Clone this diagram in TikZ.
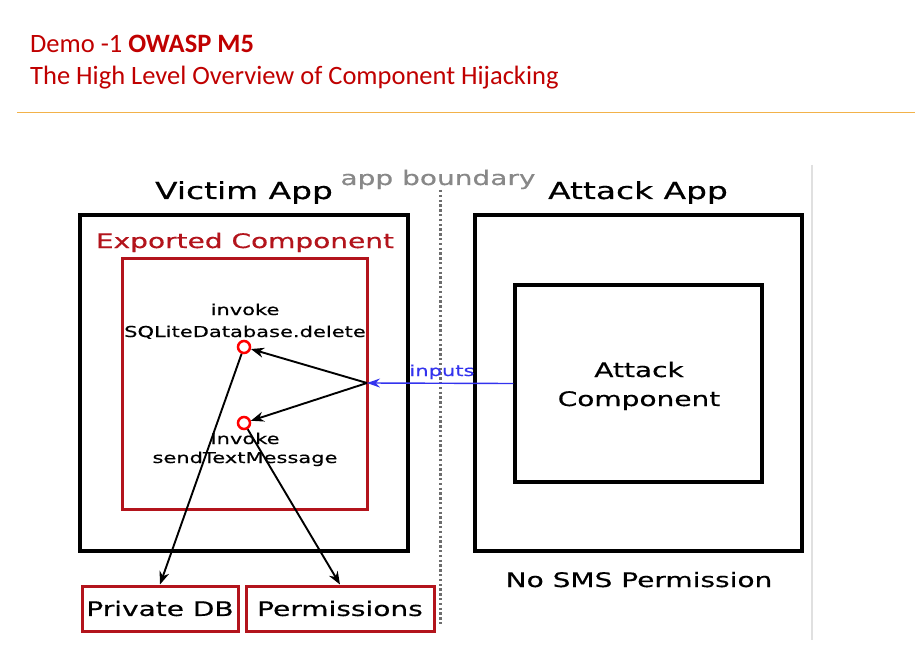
\documentclass[tikz,border=0pt]{standalone}
\usepackage{fontspec}
\setmainfont{DejaVu Sans}[FakeStretch=1.4, FakeBold=0.5]
\newfontfamily\titlefont{Carlito}
\usetikzlibrary{arrows.meta}
\definecolor{titlered}{HTML}{C00000}
\definecolor{boxred}{HTML}{B3141C}
\definecolor{sepline}{HTML}{F2B24A}
\definecolor{bgray}{HTML}{888888}
\definecolor{inblue}{HTML}{3333EE}
\tikzset{
  blackbox/.style={draw=black, line width=3.4pt},
  redbox/.style={draw=boxred, line width=3pt},
  conn/.style={draw=black, line width=1.9pt, -{Stealth[length=13pt,width=10pt]}},
  port/.style={circle, draw=red, line width=2.5pt, minimum size=12pt, inner sep=0pt, fill=white},
  lbl/.style={inner sep=0pt, anchor=base},
}
\begin{document}
\begin{tikzpicture}[x=1pt,y=-1pt]
\useasboundingbox (0,0) rectangle (915,663);
\fill[white] (0,0) rectangle (915,663);
% title
\node[lbl, anchor=base west, text=titlered, font=\titlefont\fontsize{26.5}{30}\selectfont] (t1) at (30,53) {Demo -1 \textbf{OWASP M5}};
\node[lbl, anchor=base west, text=titlered, font=\titlefont\fontsize{26.5}{30}\selectfont] (t2) at (30,85) {The High Level Overview of Component Hijacking};
\draw[sepline, line width=1pt] (17,113) -- (915,113);
% right gray border
\draw[black!12, line width=1.5pt] (812,165) -- (812,640);
% boundary
\draw[bgray!80!black, line width=3pt, dash pattern=on 2.4pt off 2.4pt] (440,190) -- (440,625);
\node[lbl, text=bgray, font=\fontsize{20}{24}\selectfont] (ab) at (438,185) {app boundary};
% victim
\node[lbl, font=\fontsize{23.5}{28}\selectfont] (va) at (244,199) {Victim App};
\draw[blackbox] (80,215) rectangle (408,551);
\node[lbl, text=boxred, font=\fontsize{20}{24}\selectfont] (ec) at (245,248) {Exported Component};
\draw[redbox] (122,258) rectangle (367,509);
\node[lbl, font=\fontsize{15}{18}\selectfont] (i1) at (245,315) {invoke};
\node[lbl, font=\fontsize{15}{18}\selectfont] (i1b) at (245,337) {SQLiteDatabase.delete};
\node[lbl, font=\fontsize{15}{18}\selectfont] (i2) at (245,444) {Invoke};
\node[lbl, font=\fontsize{15}{18}\selectfont] (i2b) at (245,463) {sendTextMessage};
\coordinate (src) at (367,383);
\node[port] (c1) at (244,347) {};
\node[port] (c2) at (244,423) {};
\draw[conn] (src) -- (c1);
\draw[conn] (src) -- (c2);
% bottom boxes
\node[draw=boxred, line width=3pt, minimum width=156pt, minimum height=45pt, inner sep=0pt, font=\fontsize{20}{24}\selectfont] (pdb) at (160,608.5) {Private DB};
\node[draw=boxred, line width=3pt, minimum width=188pt, minimum height=45pt, inner sep=0pt, font=\fontsize{20}{24}\selectfont] (perm) at (340,608.5) {Permissions};
\draw[conn] (c1) -- (pdb.north);
\draw[conn] (c2) -- (perm.north);
% attack
\node[lbl, font=\fontsize{23.5}{28}\selectfont] (aa) at (638,199) {Attack App};
\draw[blackbox] (475,215) rectangle (802,551);
\node[blackbox, minimum width=247pt, minimum height=197pt, inner sep=0pt] (ac) at (638.5,383.5) {};
\node[lbl, font=\fontsize{20}{24}\selectfont] (ac1) at (639,377) {Attack};
\node[lbl, font=\fontsize{20}{24}\selectfont] (ac2) at (639,406) {Component};
\node[lbl, font=\fontsize{20}{24}\selectfont] (nsms) at (639,587) {No SMS Permission};
% inputs
\draw[inblue, line width=1.4pt, -{Stealth[length=13pt,width=9pt]}] (ac.west) -- (src);
\node[lbl, text=inblue, font=\fontsize{15}{18}\selectfont] (inp) at (442,376) {inputs};
\end{tikzpicture}
\end{document}
